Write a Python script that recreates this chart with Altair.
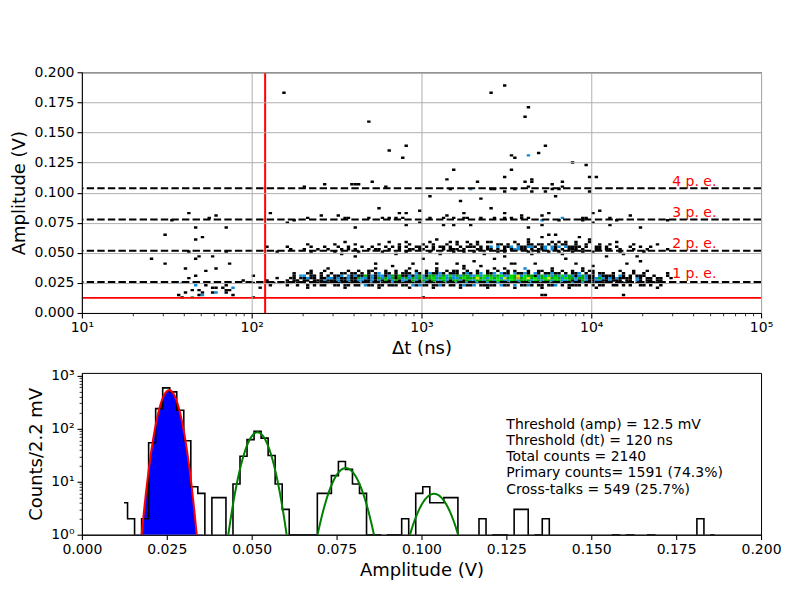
import math
import altair as alt
import numpy as np
import pandas as pd

# ---------------- top panel: 2D histogram of (dt, amplitude) ----------------
LOG_BIN = 0.02      # width of a dt bin, in decades
AMP_BIN = 0.002     # height of an amplitude bin, in V
BAND_FIRST_COL = 60  # dt-bin index of the first character of each band row

# rows of the dense 1 p.e. band: key = amplitude-bin index, chars = counts per dt bin
pe1_rows = {
    10: "..... .1... ..... ..1.. ..... ..1.. ..... .1... ...1. ..... .1... ....1 ..... ..1.. ..... 1.... ...1. ..... .1... ..... ..... ....1 .....",
    11: "1..1. .1.1. 11..1 1.11. 11.21 1.11. 111.1 1.212 11.11 21.11 .1211 2.111 11.21 1.2.1 121.1 1.112 .1.11 11.1. 1.11. .11.1 .1..1 1.1.. 1....",
    12: "11.1. 1.111 .1111 12.11 11211 21.11 12211 11121 21112 11211 21121 12112 21221 12312 21221 12211 21112 11211 12.11 1.111 11.11 .1.11 1..1.",
    13: "1.11. 11.11 12111 21121 12211 21213 12312 21321 32132 23213 32132 23323 32432 24323 33243 23323 32231 21321 12211 2111. 11.21 .11.1 1....",
    14: ".11.1 1211. 11221 21121 13221 21323 23132 32323 23342 34232 23433 35342 43425 34363 45342 34534 32433 23321 12321 21211 11.21 .11.1 1..1.",
    15: "..1.2 2.11. 1.1.1 12.21 21131 21221 23131 12123 21332 23242 32332 24243 32342 24352 43312 32423 24232 12321 1.211 11.21 .1.11 1..1. ..1..",
    16: "..1.. .11.. 1..1. .11.1 1.1.1 .12.1 1.1.1 11.21 .1211 21.11 1.121 .12.1 12.21 1.211 21.21 .1121 1.1.1 12.1. 1.11. .1..1 ..1.. 1.... ..1..",
    17: "..... ..1.. .1... ...1. .1..1 1...1 ..1.. 1..1. .1..1 ..1.1 1..1. .1..1 ..1.. 1.1.. .1..1 1..1. .1..1 ..1.1 1.... ...1. ..1.. .1... .....",
    18: "..... ..... ..1.. ..... ..... .1... ..... .1... ....1 ..... ..1.. ..... .1..1 ..... 1.... ...1. ..... ..1.. ..... ..... ..... ..... .....",
}

# rows of the 2 p.e. band
pe2_rows = {
    24: "..... ..... ..... .1... ..... ..... ..1.. ..... ..... 1.... ..... ...1. ..... ..... ..1.. ..... .1... ..... ..... ....1 ..... ..... .....",
    25: "..... ..1.. ....1 ..... .1... ...1. ..... 1.... ..1.. ....1 ..1.. 1.... ..1.1 ..... .1..1 ..1.. 1...1 ..1.. 1.... ...1. ..... 1.... .....",
    26: ".1... 1...1 ..1.. .1.1. 1...1 .11.. 1..1. .11.1 1..1. .1.11 1.1.. .11.1 1.1.1 .1221 1.1.1 12.21 .1.11 1.1.. .11.1 1..1. ..1.. .1... ..1..",
    27: "1.... ..1.. .1... 1..1. ..1.. 1...1 .1.1. 1..11 .1.1. 11.1. .1.11 1.1.1 2.2.1 12.21 1221. 12.21 2.211 11.1. .11.1 ..1.. .1..1 ..1.. .....",
    28: "..... .1... ....1 ..... 1.... ..1.. ...1. .1... 1..1. ..1.. 1...1 .1... ..11. 1..1. .11.1 1.1.1 .11.. 1..1. ..1.. 1.... ..1.. ....1 .....",
    29: "..... ..... ..... ..1.. ..... ..... 1.... ..... ..1.. ..... ...1. ..... 1.... ..1.. .1... ...1. 1.... ....1 ..... ..1.. ..... ..... .....",
}

# isolated cells: (log10 dt[ns], amplitude [V], count)
low_dt_cells = [
    (2.182, 0.1832, 1), (1.633, 0.0833, 1), (1.535, 0.0769, 1), (1.745, 0.0791, 1), (1.792, 0.0805, 1),
    (1.665, 0.0708, 1), (1.857, 0.0716, 1), (1.488, 0.0642, 1), (1.700, 0.0628, 1), (1.665, 0.0608, 1),
    (2.116, 0.0833, 1), (2.084, 0.0559, 1), (1.637, 0.0506, 1), (1.857, 0.0506, 1), (2.147, 0.0506, 1),
    (1.410, 0.0459, 1), (1.665, 0.0459, 1), (1.682, 0.0467, 1), (1.778, 0.0467, 1), (1.488, 0.0401, 1),
    (1.875, 0.0415, 1), (1.618, 0.0376, 1), (1.792, 0.0368, 1), (1.729, 0.0351, 1), (1.665, 0.0318, 1),
    (1.633, 0.0290, 1), (1.943, 0.0268, 1), (2.004, 0.0301, 1),
    (1.588, 0.0246, 2), (1.665, 0.0227, 2), (1.729, 0.0235, 1), (1.843, 0.0235, 1), (1.682, 0.0196, 1),
    (1.761, 0.0207, 1), (1.792, 0.0207, 1), (1.827, 0.0207, 1), (1.857, 0.0196, 1), (1.892, 0.0207, 2),
    (1.792, 0.0174, 2), (1.761, 0.0174, 1), (1.843, 0.0160, 1), (1.875, 0.0185, 1), (1.653, 0.0185, 1),
    (1.602, 0.0160, 1), (1.569, 0.0147, 1), (1.588, 0.0138, 1), (1.682, 0.0147, 1), (1.718, 0.0160, 1),
    (1.714, 0.0147, 2), (1.659, 0.0138, 3), (1.892, 0.0147, 1),
    (2.004, 0.0241, 1), (2.059, 0.0257, 1), (2.059, 0.0216, 1), (2.108, 0.0230, 1), (2.098, 0.0271, 1),
    (2.157, 0.0285, 1), (2.137, 0.0257, 1), (2.176, 0.0257, 1), (2.004, 0.0138, 1), (2.098, 0.0241, 1),
]
high_amp_cells = [
    (3.480, 0.1881, 1), (3.418, 0.1832, 1), (3.637, 0.1704, 1), (3.612, 0.1620, 1), (2.694, 0.1580, 1),
    (2.806, 0.1350, 1), (2.918, 0.1380, 1), (2.886, 0.1289, 1), (3.637, 0.1314, 2), (3.529, 0.1300, 1),
    (3.549, 0.1289, 1), (3.192, 0.1190, 1), (3.528, 0.1190, 1), (3.157, 0.1110, 1), (3.498, 0.1120, 1),
    (3.320, 0.1087, 1), (3.612, 0.1095, 1), (2.710, 0.1095, 1), (2.614, 0.1079, 1), (2.631, 0.1079, 1),
    (2.424, 0.1060, 1), (2.580, 0.1060, 1), (3.737, 0.1389, 1), (3.690, 0.1330, 1), (3.882, 0.1253, 1),
    (3.965, 0.1231, 1), (3.990, 0.1120, 1), (4.029, 0.1120, 1), (3.657, 0.1100, 1), (3.647, 0.1087, 1),
    (3.045, 0.0968, 1), (3.239, 0.0932, 1), (3.353, 0.0943, 1), (3.786, 0.0968, 1),
]
pe4_cells = [
    (2.314, 0.1040, 1), (2.784, 0.1040, 1), (3.176, 0.1032, 1), (3.288, 0.1024, 2), (3.402, 0.1027, 1),
    (3.431, 0.1037, 1), (3.494, 0.1004, 1), (3.549, 0.1032, 1), (3.627, 0.1043, 1), (3.775, 0.1073, 1),
    (3.824, 0.1081, 1), (3.820, 0.1054, 1), (3.765, 0.1027, 1), (3.804, 0.1027, 1), (3.722, 0.1004, 1),
    (3.659, 0.1010, 1), (3.990, 0.1010, 1),
]
pe3_cells = [
    (2.324, 0.0791, 1), (2.412, 0.0805, 1), (2.518, 0.0816, 1), (2.547, 0.0791, 1), (2.571, 0.0791, 1),
    (2.694, 0.0783, 1), (2.759, 0.0871, 1), (2.776, 0.0783, 1), (2.806, 0.0791, 1), (2.841, 0.0791, 1),
    (2.865, 0.0838, 1), (2.882, 0.0783, 1), (2.906, 0.0830, 1), (2.982, 0.0850, 1), (2.982, 0.0755, 1),
    (3.141, 0.0816, 1), (3.194, 0.0783, 1), (3.253, 0.0783, 1), (3.253, 0.0830, 1), (3.271, 0.0783, 1),
    (3.353, 0.0783, 1), (3.429, 0.0783, 1), (3.418, 0.0871, 1), (3.482, 0.0838, 1), (3.494, 0.0783, 1),
    (3.529, 0.0783, 1), (3.588, 0.0783, 1), (3.629, 0.0791, 1), (2.900, 0.0736, 1), (3.598, 0.0805, 1),
    (3.706, 0.0816, 1), (3.755, 0.0833, 1), (3.824, 0.0783, 2), (3.706, 0.0769, 2), (3.804, 0.0761, 1),
    (3.941, 0.0761, 1), (3.951, 0.0791, 1), (3.971, 0.0783, 1), (4.010, 0.0755, 1), (4.059, 0.0850, 1),
    (4.000, 0.0838, 1), (4.108, 0.0783, 1), (4.157, 0.0776, 1), (4.235, 0.0819, 1), (4.445, 0.0769, 1),
    (2.212, 0.0755, 1), (2.247, 0.0769, 1), (3.050, 0.0791, 1), (3.120, 0.0783, 1),
]
between_cells = [
    (2.614, 0.0708, 1), (3.129, 0.0727, 1), (3.192, 0.0727, 1), (3.288, 0.0727, 1), (3.637, 0.0713, 1),
    (3.098, 0.0608, 1), (3.173, 0.0581, 1), (3.216, 0.0590, 1), (3.329, 0.0590, 1), (3.382, 0.0594, 1),
    (2.902, 0.0590, 1), (3.706, 0.0727, 1), (4.108, 0.0727, 1), (4.284, 0.0708, 1), (3.745, 0.0653, 1),
    (3.784, 0.0653, 1), (3.706, 0.0628, 1), (3.622, 0.0615, 1), (3.843, 0.0594, 1), (3.906, 0.0594, 1),
    (3.931, 0.0622, 1), (3.990, 0.0610, 1),
    (3.098, 0.0409, 1), (3.206, 0.0409, 1), (3.319, 0.0423, 1), (3.431, 0.0450, 1), (3.529, 0.0418, 1),
    (3.559, 0.0401, 1), (3.353, 0.0382, 1), (3.676, 0.0415, 1), (3.912, 0.0415, 1), (4.206, 0.0401, 1),
    (4.284, 0.0437, 1), (3.000, 0.0440, 1), (3.250, 0.0388, 1), (3.600, 0.0372, 1), (3.850, 0.0444, 1),
    (4.000, 0.0392, 1), (2.950, 0.0404, 1), (2.614, 0.0465, 1), (3.494, 0.0465, 1), (4.094, 0.0465, 1),
    (4.270, 0.0465, 1), (2.720, 0.0400, 1), (2.830, 0.0395, 1),
    (3.000, 0.0135, 1), (3.725, 0.0148, 1), (4.186, 0.0147, 1), (3.706, 0.0147, 1),
]

count_colors = ["#000000", "#0c8cdc", "#00a800", "#00e000", "#dde600", "#ff8c00"]

# p.e. levels (fit means from the lower panel) and their labels
fit_mean = [0.0257, 0.0517, 0.0777, 0.1037]
pe_labels = ["1 p. e.", "2 p. e.", "3 p. e.", "4 p. e."]
pe_label_amp = [0.0290, 0.0539, 0.0797, 0.1054]
pe_label_dt = [30000, 30000, 30000, 30000]
amp_threshold = [0.0125]
dt_threshold = [120]

# ---------------- bottom panel: amplitude histogram ----------------
hist_first_center = 0.012406
hist_bin_width = 0.00207
hist_counts = [4, 2, 0, 2, 54, 238, 585, 492, 222, 59, 8, 6, 0, 5, 5, 0, 9, 30, 62, 89,
               66, 31, 9, 3, 1, 1, 1, 1, 6, 6, 13, 24, 17, 9, 6, 1, 1, 0, 1, 1,
               2, 0, 6, 8, 4, 4, 5, 5, 0, 0, 0, 2, 0, 1, 1, 0, 3, 3, 0, 1,
               2, 0, 0, 0, 0, 0, 0, 0, 0, 0, 1, 0, 1, 0, 0, 1, 0, 0, 0, 0,
               0, 0, 2, 0, 1]
fit_amplitude = [529, 85, 18, 5.9]
fit_sigma = [0.00229, 0.00288, 0.00345, 0.00376]
annotation_lines = ["Threshold (amp) = 12.5 mV", "Threshold (dt) = 120 ns", "Total counts = 2140",
                    "Primary counts= 1591 (74.3%)", "Cross-talks = 549 (25.7%)"]
annotation_pos = [0.125, 118.0]   # amplitude, counts of the first line

# ---------------- build tables ----------------
cells = {}
for rows in (pe1_rows, pe2_rows):
    for j, s in rows.items():
        s = s.replace(" ", "")
        for c, ch in enumerate(s):
            if ch != ".":
                key = (BAND_FIRST_COL + c, j)
                cells[key] = cells.get(key, 0) + int(ch)
for lst in (low_dt_cells, high_amp_cells, pe4_cells, pe3_cells, between_cells):
    for lx, amp, n in lst:
        key = (int(math.floor((lx - 1) / LOG_BIN + 1e-9)), int(math.floor(amp / AMP_BIN + 1e-9)))
        cells[key] = cells.get(key, 0) + n
rec = []
for (i, j), n in cells.items():
    rec.append(dict(x1=10 ** (1 + LOG_BIN * i), x2=10 ** (1 + LOG_BIN * (i + 1)),
                    y1=AMP_BIN * j, y2=AMP_BIN * (j + 1), n=min(n, 6)))
cells_df = pd.DataFrame(rec)

pe_df = pd.DataFrame({"amp": fit_mean, "label": pe_labels, "label_amp": pe_label_amp, "label_dt": pe_label_dt})
thr_df = pd.DataFrame({"amp": amp_threshold, "dt": dt_threshold})

hist_df = pd.DataFrame({
    "amp": [hist_first_center + k * hist_bin_width for k in range(len(hist_counts))],
    "count": hist_counts,
})
hist_df["plot_count"] = hist_df["count"].where(hist_df["count"] > 0, 0.3)

fit_rows = []
for p, (a, m, s) in enumerate(zip(fit_amplitude, fit_mean, fit_sigma)):
    for xv in np.linspace(m - 4.3 * s, m + 4.3 * s, 240):
        fit_rows.append(dict(peak=p, amp=xv, fit=a * math.exp(-0.5 * ((xv - m) / s) ** 2), base=1.0))
fit_df = pd.DataFrame(fit_rows)
fit1_df = fit_df[fit_df.peak == 0]
fitn_df = fit_df[fit_df.peak > 0]

text_df = pd.DataFrame({"x": [annotation_pos[0]], "y": [annotation_pos[1]], "t": ["\n".join(annotation_lines)]})

# ---------------- scales / axes ----------------
FONT = "DejaVu Sans"
x_top = alt.Scale(type="log", domain=[10, 100000], nice=False)
y_top = alt.Scale(domain=[0, 0.2], nice=False)
x_bot = alt.Scale(domain=[0, 0.2], nice=False)
y_bot = alt.Scale(type="log", domain=[1, 1120], nice=False)

sup_x = ("datum.value < 50 ? '10¹' : datum.value < 500 ? '10²' : datum.value < 5000 ? '10³' : "
         "datum.value < 50000 ? '10⁴' : '10⁵'")
sup_y = ("datum.value < 5 ? '10⁰' : datum.value < 50 ? '10¹' : datum.value < 500 ? '10²' : '10³'")
lin_ticks = [0, 0.025, 0.05, 0.075, 0.1, 0.125, 0.15, 0.175, 0.2]
minor_x_vals = [m * 10 ** e for e in range(1, 5) for m in range(2, 10)]
minor_y_vals = [m * 10 ** e for e in range(0, 3) for m in range(2, 10)]

ax_x_top = alt.Axis(values=[10, 100, 1000, 10000, 100000], labelExpr=sup_x, title="Δt (ns)",
                    grid=True, gridColor="#b0b0b0", gridWidth=1, orient="bottom", zindex=1)
ax_y_top = alt.Axis(values=lin_ticks, format=".3f", title="Amplitude (V)",
                    grid=True, gridColor="#b0b0b0", gridWidth=1, zindex=1)
ax_x_bot = alt.Axis(values=lin_ticks, format=".3f", title="Amplitude (V)", grid=False)
ax_y_bot = alt.Axis(values=[1, 10, 100, 1000], labelExpr=sup_y, title="Counts/2.2 mV", grid=False, orient="left")

# ---------------- top chart ----------------
hist2d = alt.Chart(cells_df).mark_rect(clip=True).encode(
    x=alt.X("x1:Q", scale=x_top, axis=ax_x_top),
    x2="x2:Q",
    y=alt.Y("y1:Q", scale=y_top, axis=ax_y_top),
    y2="y2:Q",
    color=alt.Color("n:O", scale=alt.Scale(domain=[1, 2, 3, 4, 5, 6], range=count_colors), legend=None),
)
pe_lines = alt.Chart(pe_df).mark_rule(color="black", strokeWidth=2, strokeDash=[7.4, 3.2]).encode(
    y=alt.Y("amp:Q", scale=y_top, axis=ax_y_top))
pe_text = alt.Chart(pe_df).mark_text(color="red", align="left", baseline="alphabetic", fontSize=14, font=FONT).encode(
    x=alt.X("label_dt:Q", scale=x_top, axis=None),
    y=alt.Y("label_amp:Q", scale=y_top, axis=ax_y_top),
    text="label:N")
thr_h = alt.Chart(thr_df).mark_rule(color="red", strokeWidth=1.8).encode(
    y=alt.Y("amp:Q", scale=y_top, axis=ax_y_top))
thr_v = alt.Chart(thr_df).mark_rule(color="red", strokeWidth=2).encode(x=alt.X("dt:Q", scale=x_top, axis=None))
minor_x = alt.Chart(pd.DataFrame({"v": minor_x_vals})).mark_point(opacity=0).encode(
    x=alt.X("v:Q", scale=x_top, axis=alt.Axis(values=minor_x_vals, labels=False, ticks=True, tickSize=2.8,
                                               tickWidth=0.8, domain=False, grid=False, title=None, orient="bottom")))

top = alt.layer(hist2d, pe_lines, thr_h, thr_v, pe_text, minor_x).resolve_axis(x="independent").properties(
    width=680, height=241)

# ---------------- bottom chart ----------------
fill1 = alt.Chart(fit1_df).mark_area(color="blue", clip=True).encode(
    x=alt.X("amp:Q", scale=x_bot, axis=ax_x_bot),
    y=alt.Y("fit:Q", scale=y_bot, axis=None),
    y2="base:Q")
step = alt.Chart(hist_df).mark_line(interpolate="step", color="black", strokeWidth=1.6, clip=True).encode(
    x=alt.X("amp:Q", scale=x_bot, axis=ax_x_bot),
    y=alt.Y("plot_count:Q", scale=y_bot, axis=ax_y_bot))
line1 = alt.Chart(fit1_df).mark_line(color="red", strokeWidth=2, clip=True).encode(
    x=alt.X("amp:Q", scale=x_bot, axis=ax_x_bot),
    y=alt.Y("fit:Q", scale=y_bot, axis=None))
linen = alt.Chart(fitn_df).mark_line(color="green", strokeWidth=2, clip=True).encode(
    x=alt.X("amp:Q", scale=x_bot, axis=ax_x_bot),
    y=alt.Y("fit:Q", scale=y_bot, axis=None),
    detail="peak:N")
note = alt.Chart(text_df).mark_text(align="left", baseline="middle", lineBreak="\n", lineHeight=16.25,
                                    fontSize=14, font=FONT, color="black").encode(
    x=alt.X("x:Q", scale=x_bot, axis=ax_x_bot),
    y=alt.Y("y:Q", scale=y_bot, axis=None),
    text="t:N")
minor_y = alt.Chart(pd.DataFrame({"v": minor_y_vals})).mark_point(opacity=0).encode(
    y=alt.Y("v:Q", scale=y_bot, axis=alt.Axis(values=minor_y_vals, labels=False, ticks=True, tickSize=2.8,
                                               tickWidth=0.8, domain=False, grid=False, title=None, orient="left")))

bottom = alt.layer(fill1, step, line1, linen, note, minor_y).resolve_axis(y="independent").properties(
    width=680, height=162)

chart = alt.vconcat(top, bottom, spacing=60, bounds="flush").properties(
    padding={"top": 56, "left": 2, "right": 10, "bottom": 10},
    background="white",
).configure_view(stroke="black", strokeWidth=1).configure_axis(
    labelFont=FONT, titleFont=FONT, labelFontSize=14, titleFontSize=18, titleFontWeight="normal",
    labelColor="black", titleColor="black", domainColor="black", tickColor="black",
    tickSize=4.9, tickWidth=1.1, labelPadding=3, titlePadding=5, labelFlush=False, labelOverlap=False,
)

chart.save("out.html", embed_options={"renderer": "svg", "actions": False})
